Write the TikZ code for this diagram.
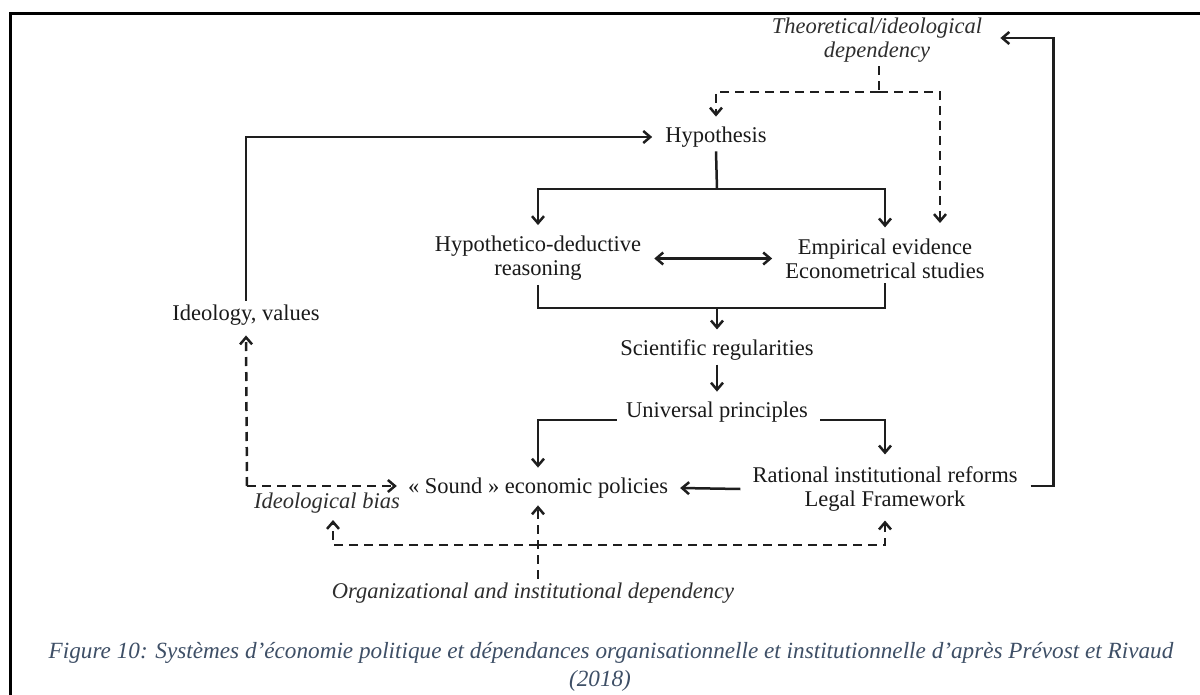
\documentclass[tikz,border=0pt]{standalone}
\usepackage{fontspec}
\setmainfont{Liberation Serif}
\usetikzlibrary{arrows.meta}
\definecolor{ln}{HTML}{1E1E1E}
\definecolor{tx}{HTML}{1A1A1A}
\definecolor{itc}{HTML}{2E2E2E}
\definecolor{capc}{HTML}{3E4F66}
\tikzset{
  txt/.style={font=\fontsize{22.5}{24}\selectfont, text=tx, inner sep=4pt, align=center},
  itx/.style={font=\fontsize{22.5}{24}\selectfont\itshape, text=itc, inner sep=4pt, align=center},
  captxt/.style={font=\fontsize{23.2}{26}\selectfont\itshape, text=capc, inner sep=0pt},
  conn/.style={draw=ln, line width=2.5pt},
  arr/.style={conn, -{Straight Barb[length=7pt,width=12pt,line width=2.5pt]}},
  both/.style={conn, {Straight Barb[length=7pt,width=12pt,line width=2.5pt]}-{Straight Barb[length=7pt,width=12pt,line width=2.5pt]}},
  dline/.style={conn, dash pattern=on 9pt off 6pt},
  darr/.style={arr, dash pattern=on 9pt off 6pt},
  frame/.style={draw=black, line width=3pt}
}
\begin{document}
\begin{tikzpicture}[x=1pt,y=-1pt]
\useasboundingbox (0,0) rectangle (1200,695);
\fill[white] (0,0) rectangle (1200,695);
\draw[frame] (1201,14) -- (10,14) -- (10,696);

% nodes
\node[itx] (theo) at (877,40) {Theoretical/ideological\\dependency};
\node[txt] (hyp) at (716,137) {Hypothesis};
\node[txt] (hd) at (538,258.5) {Hypothetico-deductive\\reasoning};
\node[txt] (emp) at (885,258.5) {Empirical evidence\\Econometrical studies};
\node[txt] (ideo) at (246,315) {Ideology, values};
\node[txt] (sci) at (717,350) {Scientific regularities};
\node[txt] (uni) at (717,412) {Universal principles};
\node[txt] (sound) at (538,488) {« Sound » economic policies};
\node[txt] (rat) at (885,489) {Rational institutional reforms\\Legal Framework};
\node[itx] (bias) at (327,503) {Ideological bias};
\node[itx] (org) at (533,593) {Organizational and institutional dependency};
\node[captxt] (cap1) at (611,653) {Figure 10: Systèmes d’économie politique et dépendances organisationnelle et institutionnelle d’après Prévost et Rivaud};
\node[captxt] (cap2) at (600,681) {(2018)};

% helper coordinates
\coordinate (hj) at (717,189);
\coordinate (mj) at (717,308);
\coordinate (tj) at (879,92);
\coordinate (et) at (940,223);
\coordinate (ib) at (247,486);
\coordinate (sw) at ([xshift=-7pt]sound.west);
\coordinate (oj) at (538,545);
\coordinate (bt) at (333,520);

% solid connectors
\draw[arr, shorten >=9pt] (ideo.north) |- (hyp.west);
\draw[conn] (hyp.south) -- (hj);
\draw[arr] (hj) -| ([yshift=7pt]hd.north);
\draw[arr] (hj) -| ([yshift=7pt]emp.north);
\draw[both, shorten <=9pt, shorten >=9pt] (hd) -- (emp);
\draw[conn] (hd.south) |- (mj) -| (emp.south);
\draw[arr] (mj) -- ([yshift=6pt]sci.north);
\draw[arr] (sci.south) -- ([yshift=6pt]uni.north);
\draw[arr] ([xshift=-5pt,yshift=-8pt]uni.west) -| ([yshift=6pt]sound.north);
\draw[arr] ([xshift=8pt,yshift=-8pt]uni.east) -| ([yshift=8pt]rat.north);
\draw[arr] ([xshift=-8pt]rat.west) -- ([xshift=8pt]sound.east);
\draw[arr] ([xshift=9pt,yshift=3pt]rat.east) -- ++(23,0) |- ([xshift=14pt,yshift=2pt]theo.east);

% dashed connectors
\draw[dline] (theo.south -| tj) -- (tj);
\draw[darr] (tj) -| ([yshift=6pt]hyp.north);
\draw[darr] (tj) -| (et);
\draw[darr] (ib) -- ([yshift=-6pt]ideo.south);
\draw[darr] (ib) -- (sw |- ib);
\draw[darr] (oj |- org.north) -- ([yshift=-3pt]sound.south);
\draw[darr] (oj) -| (bt);
\draw[darr] (oj) -| ([yshift=-5pt]rat.south);
\end{tikzpicture}
\end{document}
